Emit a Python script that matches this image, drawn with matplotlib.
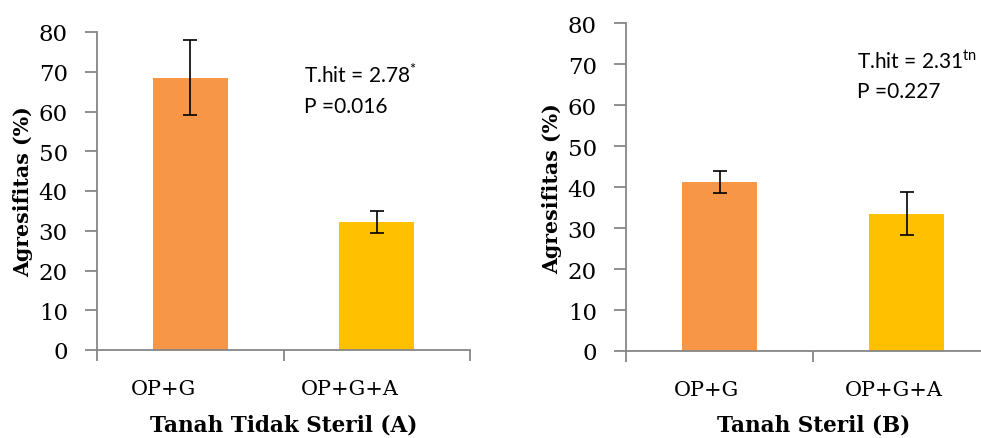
import numpy as np
import matplotlib
matplotlib.use('Agg')
from matplotlib import pyplot as plt
from matplotlib.transforms import ScaledTranslation

# data
kategori = ['OP+G', 'OP+G+A']
warna = ['#F79646', '#FFC000']

# Tanah Tidak Steril (A)
nilai_a = [68.5, 32.2]
galat_a = [9.5, 2.7]
# Tanah Steril (B)
nilai_b = [41.3, 33.5]
galat_b = [2.7, 5.3]

teks_a = ['T.hit = 2.78$^{\\mathregular{*}}$', 'P =0.016']
teks_b = ['T.hit = 2.31$^{\\mathregular{tn}}$', 'P =0.227']

plt.rcParams['font.family'] = 'DejaVu Serif'
plt.rcParams['mathtext.fontset'] = 'custom'
plt.rcParams['mathtext.rm'] = 'Lato'

abu = '#868686'

fig = plt.figure(figsize=(9.81, 4.39), dpi=100)
ax1 = fig.add_axes([97/981, 88/439, 373/981, 318/439])
ax2 = fig.add_axes([626/981, 87/439, 374.6/981, 327.7/439])


def gambar(ax, nilai, galat, teks, judul, geser, posTeks, posJudul):
    x = np.arange(len(kategori))
    ax.bar(x, nilai, width=0.4, color=warna, zorder=2)
    ax.errorbar(x, nilai, yerr=galat, fmt='none', ecolor='black',
                elinewidth=1.2, capsize=5, capthick=1.2, zorder=3)

    ax.set_xlim(-0.5, 1.5)
    ax.set_ylim(0, 80)
    ax.set_yticks(np.arange(0, 81, 10))

    # spines
    for s in ['top', 'right']:
        ax.spines[s].set_visible(False)
    for s in ['left', 'bottom']:
        ax.spines[s].set_color(abu)
        ax.spines[s].set_linewidth(1.3)

    ax.tick_params(axis='y', direction='out', length=9, width=1.3,
                   color=abu, pad=12, labelsize=16.5)
    # batas kategori sebagai minor ticks
    ax.set_xticks([-0.5, 0.5, 1.5], minor=True)
    ax.tick_params(axis='x', which='minor', direction='out', length=8,
                   width=1.3, color=abu)
    ax.set_xticks(x)
    ax.set_xticklabels(kategori)
    ax.tick_params(axis='x', which='major', length=0, pad=21, labelsize=15)
    for lbl in ax.get_xticklabels():
        lbl.set_transform(lbl.get_transform() +
                          ScaledTranslation(geser, 0, fig.dpi_scale_trans))

    ax.set_ylabel('Agresifitas (%)', fontsize=14.8, fontweight='bold')
    ax.yaxis.label.set_va('center')
    ax.yaxis.set_label_coords(-0.198, 0.5)
    ax.set_xlabel(judul, fontsize=15.5, fontweight='bold')
    ax.xaxis.label.set_va('center')
    ax.xaxis.set_label_coords(0.5, posJudul)

    # anotasi uji t
    ax.text(posTeks[0], posTeks[1], teks[0], transform=ax.transAxes,
            family='Lato', fontsize=15, va='baseline', ha='left')
    ax.text(posTeks[0], posTeks[2], teks[1], transform=ax.transAxes,
            family='Lato', fontsize=15, va='baseline', ha='left')


gambar(ax1, nilai_a, galat_a, teks_a, 'Tanah Tidak Steril (A)', -0.27,
       ((304 - 97) / 373, (351 - 83) / 318, (351 - 113) / 318), -0.233)
gambar(ax2, nilai_b, galat_b, teks_b, 'Tanah Steril (B)', -0.13,
       ((857 - 626) / 374.6, (352 - 69) / 327.7, (352 - 98) / 327.7), -0.223)

fig.savefig('out.png', dpi=100)
